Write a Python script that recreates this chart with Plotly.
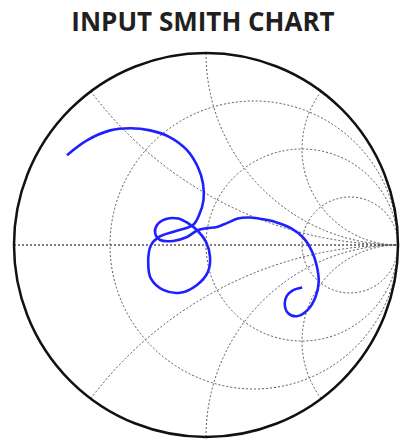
import numpy as np
import plotly.graph_objects as go

s11_re = [-0.724, -0.620, -0.499, -0.395, -0.291, -0.187, -0.099, -0.042, -0.016, -0.013,
          -0.036, -0.068, -0.156, -0.244, -0.286, -0.301, -0.286, -0.223, -0.135, -0.047,
          0.010, 0.021, 0.000, -0.042, -0.094, -0.145, -0.208, -0.255, -0.265, -0.239,
          -0.171, -0.099, -0.042, 0.005, 0.057, 0.109, 0.166, 0.229, 0.291, 0.364,
          0.442, 0.509, 0.551, 0.577, 0.587, 0.571, 0.530, 0.473, 0.426, 0.410,
          0.421, 0.452, 0.501]
s11_im = [0.468, 0.545, 0.597, 0.608, 0.597, 0.561, 0.494, 0.405, 0.322, 0.234,
          0.156, 0.104, 0.073, 0.042, 0.000, -0.088, -0.177, -0.234, -0.249, -0.208,
          -0.140, -0.062, 0.016, 0.073, 0.114, 0.138, 0.135, 0.104, 0.062, 0.026,
          0.021, 0.042, 0.078, 0.088, 0.094, 0.114, 0.138, 0.143, 0.135, 0.119,
          0.088, 0.036, -0.031, -0.109, -0.192, -0.270, -0.338, -0.371, -0.353, -0.306,
          -0.265, -0.236, -0.221]

r_grid = [1 / 3, 1, 3]
x_grid = [-2, -1, -0.5, 0.5, 1, 2]

gamma = np.array(s11_re) + 1j * np.array(s11_im)
z = (1 + gamma) / (1 - gamma)

fig = go.Figure()

# dotted real axis
fig.add_trace(go.Scattersmith(
    real=[0, 1e6], imag=[0, 0], mode='lines',
    line=dict(color='#555555', width=1.3, dash='2px,2px'),
    hoverinfo='skip', showlegend=False
))

fig.add_trace(go.Scattersmith(
    real=z.real, imag=z.imag, mode='lines',
    line=dict(color='#1f1fff', width=2.6, shape='spline'),
    showlegend=False
))

fig.update_layout(
    width=402, height=441,
    margin=dict(l=13.5, r=3.5, t=52.5, b=3.5),
    paper_bgcolor='white',
    title=dict(text='<b>INPUT SMITH CHART</b>', x=0.505, xanchor='center', y=0.951, yanchor='middle',
               font=dict(family='Open Sans', size=26, color='#231f20')),
    smith=dict(
        bgcolor='white',
        domain=dict(x=[0, 1], y=[0, 1]),
        realaxis=dict(tickvals=r_grid, showticklabels=False, ticks='', showline=False,
                      gridcolor='#555555', gridwidth=1.3, griddash='2px,2px'),
        imaginaryaxis=dict(tickvals=x_grid, showticklabels=False, ticks='',
                           linecolor='#111111', linewidth=2.5,
                           gridcolor='#555555', gridwidth=1.3, griddash='2px,2px'),
    ),
)

# drop the default 8px page margin so the figure sits at the window corner
fig.write_html("out.html", config={'displayModeBar': False},
               post_script="document.body.style.margin = '0';")
